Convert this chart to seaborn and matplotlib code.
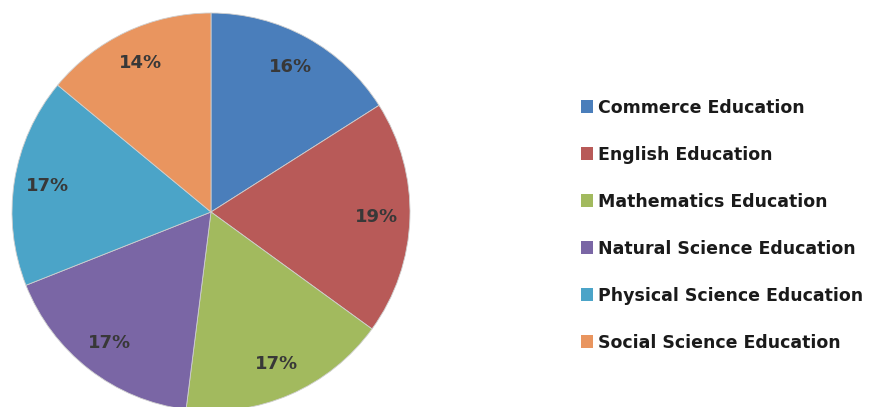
import matplotlib
matplotlib.use("Agg")
import matplotlib.pyplot as plt
import seaborn as sns
import numpy as np
from matplotlib.patches import Patch

categories = ["Commerce Education", "English Education", "Mathematics Education",
              "Natural Science Education", "Physical Science Education", "Social Science Education"]
values = [16, 19, 17, 17, 17, 14]
pct_labels = ["16%", "19%", "17%", "17%", "17%", "14%"]

sns.set_theme(style="white")
plt.rcParams['font.family'] = ['DejaVu Sans']
colors = sns.color_palette(["#4a7ebb", "#b85a58", "#a2ba5e", "#7a66a5", "#4ba4c8", "#e9955f"])

W, H = 872, 407
fig = plt.figure(figsize=(W / 100, H / 100), dpi=100)
cx, cy, r = 211, 212, 199
ax = fig.add_axes([(cx - r) / W, (H - cy - r) / H, 2 * r / W, 2 * r / H])

wedges, texts = ax.pie(values, colors=colors, startangle=90, counterclock=False,
                       radius=1, wedgeprops=dict(linewidth=0.6, edgecolor="#cfcfcf"))
for w, lab in zip(wedges, pct_labels):
    ang = np.deg2rad((w.theta1 + w.theta2) / 2)
    ax.text(0.83 * np.cos(ang), 0.83 * np.sin(ang), lab, ha="center", va="center",
            fontsize=13, color="#383838", weight="semibold")
ax.set_xlim(-1, 1)
ax.set_ylim(-1, 1)
ax.set_aspect("equal")
ax.axis("off")

handles = [Patch(facecolor=c, edgecolor="none") for c in colors]
leg = fig.legend(handles, categories, loc="upper left",
                 bbox_to_anchor=(565 / W, 1 - 83 / H), frameon=False,
                 prop=dict(size=12.5, weight="bold"), handlelength=0.72, handleheight=0.72,
                 handletextpad=0.3, labelspacing=1.67)
for t in leg.get_texts():
    t.set_color("#1a1a1a")

fig.savefig("out.png", dpi=100, facecolor="white")
